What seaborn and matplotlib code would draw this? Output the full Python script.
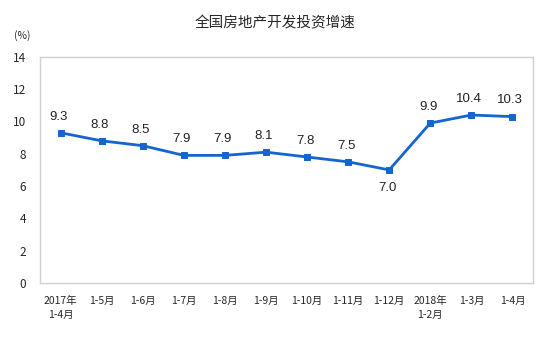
import numpy as np
import pandas as pd
import seaborn as sns
import matplotlib.pyplot as plt

sns.set_theme(style="white")
plt.rcParams['font.family'] = ['Noto Sans CJK SC', 'DejaVu Sans']

months = ["2017年\n1-4月", "1-5月", "1-6月", "1-7月", "1-8月", "1-9月", "1-10月",
          "1-11月", "1-12月", "2018年\n1-2月", "1-3月", "1-4月"]
growth = [9.3, 8.8, 8.5, 7.9, 7.9, 8.1, 7.8, 7.5, 7.0, 9.9, 10.4, 10.3]

df = pd.DataFrame({"month": months, "growth": growth})
df["pos"] = np.arange(len(df))

blue = "#1565d0"
grid_gray = "#d0d0d0"

fig = plt.figure(figsize=(5.5, 3.6), dpi=100)
ax = fig.add_axes([0.073, 0.214, 0.896, 0.628])

sns.lineplot(data=df, x="pos", y="growth", ax=ax, color=blue, linewidth=2,
             marker="s", markersize=5, markeredgecolor=blue)

for x, y in zip(df["pos"], df["growth"]):
    dy = -1.1 if y == 7.0 else 1.0
    ax.text(x - 0.05, y + dy, f"{y:.1f}", ha="center", va="center", fontsize=9.5,
            family=["Liberation Sans", "DejaVu Sans"], color="#222222")

ax.set_xlim(-0.5, len(df) - 0.5)
ax.set_ylim(0, 14)
ax.set_yticks(range(0, 15, 2))
ax.set_xticks(df["pos"])
ax.set_xticklabels(df["month"], fontsize=7.5, linespacing=1.6)
ax.set_xticks(np.arange(0.5, len(df) - 0.5, 1), minor=True)
ax.tick_params(axis="x", which="major", length=0, pad=9)
ax.tick_params(axis="x", which="minor", length=3, direction="in", color=grid_gray)
ax.tick_params(axis="y", length=3, direction="in", color=grid_gray, labelsize=8.5, pad=10)
ax.set_xlabel("")
ax.set_ylabel("")

for s in ax.spines.values():
    s.set_color(grid_gray)
    s.set_linewidth(1)

fig.text(0.5, 0.935, "全国房地产开发投资增速", ha="center", va="center", fontsize=10.5)
fig.text(0.04, 0.9, "(%)", ha="center", va="center", fontsize=7.5)

plt.savefig("out.png", dpi=100)
